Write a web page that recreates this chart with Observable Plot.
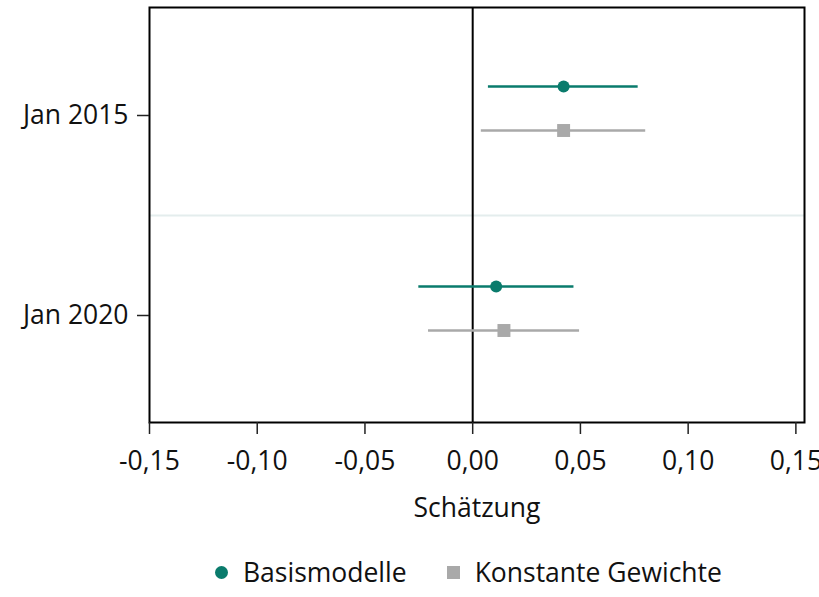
<!DOCTYPE html>
<html>
<head>
<meta charset="utf-8">
<script src="https://cdn.jsdelivr.net/npm/d3@7"></script>
<script src="https://cdn.jsdelivr.net/npm/@observablehq/plot@0.6"></script>
<style>
  html, body { margin: 0; padding: 0; background: #fff; }
  body { width: 819px; height: 597px; overflow: hidden; font-family: "Open Sans", "Noto Sans", sans-serif; }
  #legend { display: flex; align-items: center; height: 30px; margin-top: 12px; padding-left: 215px; font-size: 26.5px; color: #111; }
  .item { display: flex; align-items: center; margin-right: 40px; }
  .sw { display: inline-block; width: 13px; height: 13px; margin-right: 15px; }
</style>
</head>
<body>
<div id="chart"></div>
<div id="legend"></div>
<script>
// Data
const periods = ["Jan 2015", "Jan 2020"];
const series = ["Basismodelle", "Konstante Gewichte"];
const colors = ["#0a7b6c", "#a9a9a9"];
const estimate = [[0.0422, 0.0109], [0.0422, 0.0145]];
const lower    = [[0.0073, -0.0250], [0.0040, -0.0205]];
const upper    = [[0.0768, 0.0470], [0.0803, 0.0496]];
const xTicks = [-0.15, -0.10, -0.05, 0, 0.05, 0.10, 0.15];

const rows = [];
series.forEach((s, si) => periods.forEach((p, pi) => rows.push({
  series: s, period: p, est: estimate[si][pi], lo: lower[si][pi], hi: upper[si][pi]
})));
const A = rows.filter(d => d.series === series[0]);
const B = rows.filter(d => d.series === series[1]);
const fmt = d => d.toFixed(2).replace(".", ",");

const chart = Plot.plot({
  width: 819,
  height: 545,
  marginLeft: 149,
  marginRight: 15,
  marginTop: 7,
  marginBottom: 123,
  style: { fontFamily: "'Open Sans', 'Noto Sans', sans-serif", color: "#111", background: "#fff" },
  x: { domain: [-0.15, 0.154] },
  y: { type: "point", domain: periods, padding: 0.535 },
  marks: [
    Plot.ruleY(periods.slice(0, 1), { dy: 100, stroke: "#e4eded", strokeWidth: 2 }),
    Plot.ruleX([0], { stroke: "#000", strokeWidth: 2 }),
    Plot.ruleY(A, { y: "period", x1: "lo", x2: "hi", dy: -29, stroke: colors[0], strokeWidth: 2.6 }),
    Plot.ruleY(B, { y: "period", x1: "lo", x2: "hi", dy: 15, stroke: colors[1], strokeWidth: 2.4 }),
    Plot.dot(A, { x: "est", y: "period", dy: -29, r: 6, fill: colors[0], symbol: "circle" }),
    Plot.dot(B, { x: "est", y: "period", dy: 15, r: 7.3, fill: colors[1], symbol: "square" }),
    Plot.frame({ stroke: "#000", strokeWidth: 2 }),
    Plot.axisX({ ticks: xTicks, tickFormat: fmt, tickSize: 12, tickPadding: 17, fontSize: 26.5,
      stroke: "#222", strokeWidth: 1.5,
      label: "Schätzung", labelAnchor: "center", labelArrow: "none", labelOffset: 94 }),
    Plot.axisY({ tickSize: 12, tickPadding: 9, fontSize: 26.5, stroke: "#222", strokeWidth: 1.5, label: null })
  ]
});
document.getElementById("chart").appendChild(chart);

const lg = document.getElementById("legend");
series.forEach((s, i) => {
  const it = document.createElement("span");
  it.className = "item";
  const sw = document.createElement("span");
  sw.className = "sw";
  sw.style.background = colors[i];
  if (i === 0) sw.style.borderRadius = "50%";
  it.appendChild(sw);
  it.appendChild(document.createTextNode(s));
  lg.appendChild(it);
});
</script>
</body>
</html>
